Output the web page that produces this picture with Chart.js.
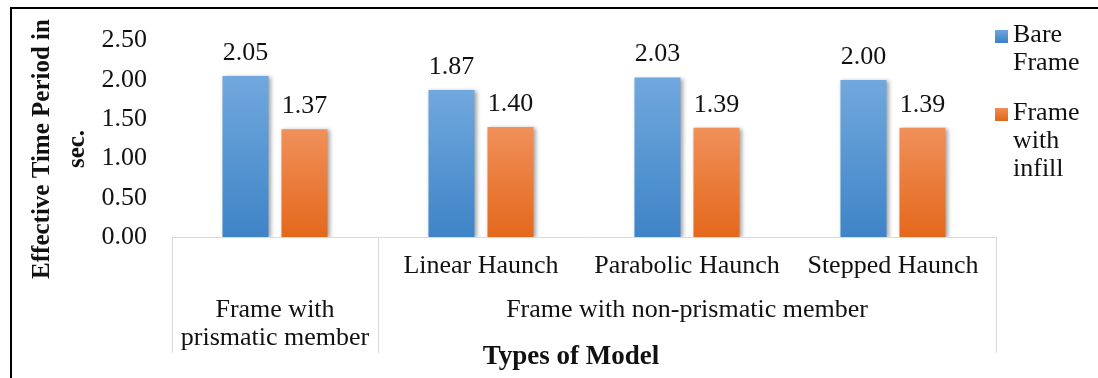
<!DOCTYPE html>
<html>
<head>
<meta charset="utf-8">
<script src="https://cdn.jsdelivr.net/npm/chart.js@4.4.1/dist/chart.umd.min.js"></script>
<style>
  html, body { margin: 0; padding: 0; background: #fff; }
</style>
</head>
<body>
<canvas id="chart" width="1098" height="378"></canvas>
<script>
// data
const subCategories = ['', 'Linear Haunch', 'Parabolic Haunch', 'Stepped Haunch'];
const groupLabels = [['Frame with', 'prismatic member'], ['Frame with non-prismatic member']];
const groupSpans = [[0, 0], [1, 3]];
const seriesNames = ['Bare Frame', 'Frame with infill'];
const bareFrame = [2.05, 1.87, 2.03, 2.00];
const withInfill = [1.37, 1.40, 1.39, 1.39];
const yTitle = ['Effective Time Period in', 'sec.'];
const xTitle = 'Types of Model';

const FONT = "'Liberation Serif', 'Times New Roman', serif";
const seriesTop = ['#71a8de', '#f0905a'];
const seriesBottom = ['#3e84c7', '#e4681c'];
const LINE = '#d9d9d9';

// vertical gradient per bar, top of bar -> axis
function barFill(i) {
  return ctx => {
    const chart = ctx.chart;
    if (!chart.chartArea || ctx.type !== 'data') return seriesBottom[i];
    const y = chart.scales.y;
    const g = chart.ctx.createLinearGradient(0, y.getPixelForValue(ctx.raw), 0, y.getPixelForValue(0));
    g.addColorStop(0, seriesTop[i]);
    g.addColorStop(1, seriesBottom[i]);
    return g;
  };
}

const extras = {
  id: 'extras',
  beforeDatasetsDraw(chart) {
    const c = chart.ctx;
    c.save();
    c.shadowColor = 'rgba(0,0,0,0.35)';
    c.shadowBlur = 4;
    c.shadowOffsetX = 2;
    c.shadowOffsetY = 1;
  },
  afterDatasetsDraw(chart) {
    const c = chart.ctx;
    c.restore();
    // value labels
    c.save();
    c.font = '26px ' + FONT;
    c.fillStyle = '#111';
    c.textAlign = 'center';
    c.textBaseline = 'middle';
    chart.data.datasets.forEach((ds, i) => {
      chart.getDatasetMeta(i).data.forEach((bar, j) => {
        c.fillText(ds.data[j].toFixed(2), bar.x, bar.y - 23);
      });
    });
    c.restore();
  },
  afterDraw(chart) {
    const c = chart.ctx, x = chart.scales.x, area = chart.chartArea;
    const half = (x.getPixelForValue(1) - x.getPixelForValue(0)) / 2;
    c.save();
    // outer frame (left + top)
    c.fillStyle = '#000';
    c.fillRect(10, 7, 1088, 2);
    c.fillRect(10, 7, 2, 371);

    // category boxes of the two-level axis
    c.strokeStyle = LINE;
    c.lineWidth = 1;
    const edges = [groupSpans[0][0] - 0.5];
    groupSpans.forEach(s => edges.push(s[1] + 0.5));
    edges.forEach(e => {
      const px = Math.round(x.getPixelForValue(0) + (e * 2) * half) + 0.5;
      c.beginPath();
      c.moveTo(px, area.bottom);
      c.lineTo(px, 353);
      c.stroke();
    });

    // group labels
    c.fillStyle = '#111';
    c.font = '26px ' + FONT;
    c.textAlign = 'center';
    c.textBaseline = 'middle';
    groupSpans.forEach((s, g) => {
      const cx = (x.getPixelForValue(s[0]) + x.getPixelForValue(s[1])) / 2;
      groupLabels[g].forEach((t, k) => c.fillText(t, cx, 310 + k * 28));
    });

    // axis titles
    c.font = 'bold 27px ' + FONT;
    c.fillText(xTitle, 571, 357);
    c.font = 'bold 25px ' + FONT;
    c.save();
    c.translate(43, 149);
    c.rotate(-Math.PI / 2);
    yTitle.forEach((t, k) => c.fillText(t, 0, k * 35));
    c.restore();

    // legend
    c.font = '26px ' + FONT;
    c.textAlign = 'left';
    const legendTop = [35, 113];
    seriesNames.forEach((name, i) => {
      const y0 = legendTop[i];
      const g = c.createLinearGradient(0, y0 - 6, 0, y0 + 7);
      g.addColorStop(0, seriesTop[i]);
      g.addColorStop(1, seriesBottom[i]);
      c.fillStyle = g;
      c.fillRect(995, y0 - 5, 13, 13);
      c.fillStyle = '#111';
      name.split(' ').forEach((w, k) => c.fillText(w, 1013, y0 + k * 28));
    });
    c.restore();
  }
};

new Chart(document.getElementById('chart'), {
  type: 'bar',
  data: {
    labels: subCategories,
    datasets: [
      { label: seriesNames[0], data: bareFrame, backgroundColor: barFill(0) },
      { label: seriesNames[1], data: withInfill, backgroundColor: barFill(1) }
    ]
  },
  options: {
    responsive: false,
    animation: false,
    devicePixelRatio: 1,
    layout: { padding: { left: 0, right: 102, top: 27, bottom: 0 } },
    datasets: { bar: { categoryPercentage: 0.573, barPercentage: 0.78 } },
    plugins: { legend: { display: false }, tooltip: { enabled: false } },
    scales: {
      x: {
        grid: { display: false, drawTicks: false },
        border: { display: true, color: LINE, width: 1 },
        ticks: {
          color: '#111', font: { family: FONT, size: 26 },
          padding: 14, maxRotation: 0, autoSkip: false
        },
        afterFit(scale) { scale.height = 141; }
      },
      y: {
        min: 0, max: 2.5,
        grid: { display: false, drawTicks: false },
        border: { display: false },
        ticks: {
          stepSize: 0.5, color: '#111', font: { family: FONT, size: 26 },
          padding: 25,
          callback: v => v.toFixed(2)
        },
        afterFit(scale) { scale.width = 172; }
      }
    }
  },
  plugins: [extras]
});
</script>
</body>
</html>
